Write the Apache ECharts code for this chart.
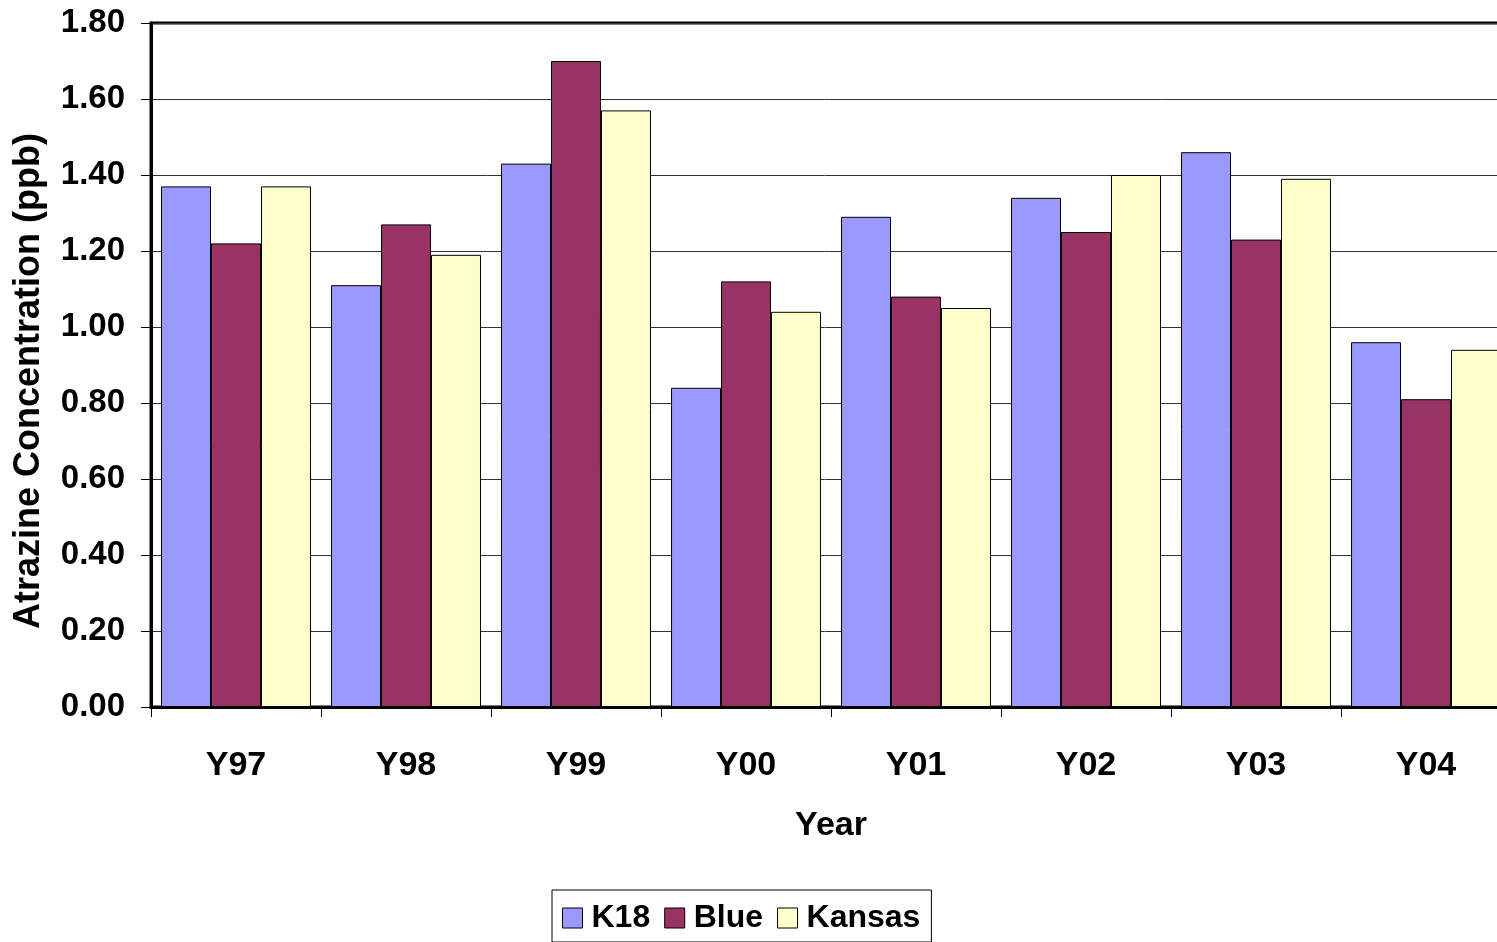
<!DOCTYPE html>
<html>
<head>
<meta charset="utf-8">
<script src="https://cdn.jsdelivr.net/npm/echarts@6/dist/echarts.min.js"></script>
<style>
  html, body { margin: 0; padding: 0; background: #fff; overflow: hidden; }
  #chart { width: 1497px; height: 942px; }
</style>
</head>
<body>
<div id="chart"></div>
<script>
// Annual mean atrazine concentration (ppb) at three sites
const years = ['Y97', 'Y98', 'Y99', 'Y00', 'Y01', 'Y02', 'Y03', 'Y04'];
const k18 = [1.37, 1.11, 1.43, 0.84, 1.29, 1.34, 1.46, 0.96];
const blue = [1.22, 1.27, 1.70, 1.12, 1.08, 1.25, 1.23, 0.81];
const kansas = [1.37, 1.19, 1.57, 1.04, 1.05, 1.40, 1.39, 0.94];

const FONT = '"Liberation Sans", Arial, sans-serif';

const chart = echarts.init(document.getElementById('chart'));

function barSeries(name, data, color) {
  return {
    name: name,
    type: 'bar',
    data: data,
    barGap: '0%',
    barCategoryGap: '11.8%',
    itemStyle: { color: color, borderColor: '#000', borderWidth: 1 },
    emphasis: { disabled: true }
  };
}

chart.setOption({
  animation: false,
  backgroundColor: '#fff',
  // plot area runs slightly past the right edge of the canvas
  grid: {
    left: 151, width: 1360, top: 23, bottom: 235,
    outerBoundsMode: 'none',
    show: true, borderColor: '#000', borderWidth: 3, backgroundColor: 'transparent'
  },
  legend: {
    left: 552, top: 890,
    padding: [12, 11, 8, 10],
    borderColor: '#000', borderWidth: 1,
    itemWidth: 20, itemHeight: 20, itemGap: 14,
    icon: 'rect',
    itemStyle: { borderColor: '#000', borderWidth: 1 },
    textStyle: { fontFamily: FONT, fontWeight: 'bold', fontSize: 32, color: '#000', padding: [0, 0, 0, 4] },
    data: ['K18', 'Blue', 'Kansas']
  },
  xAxis: {
    type: 'category',
    data: years,
    name: 'Year',
    nameLocation: 'middle',
    nameGap: 102,
    nameTextStyle: { fontFamily: FONT, fontWeight: 'bold', fontSize: 34, color: '#000' },
    axisLine: { lineStyle: { color: '#000', width: 3 } },
    axisTick: { show: true, length: 10, interval: 0, lineStyle: { color: '#000', width: 1 } },
    axisLabel: { fontFamily: FONT, fontWeight: 'bold', fontSize: 34, color: '#000', margin: 42 }
  },
  yAxis: {
    type: 'value',
    min: 0, max: 1.8, interval: 0.2,
    name: 'Atrazine Concentration (ppb)',
    nameLocation: 'middle',
    nameGap: 104,
    nameTextStyle: {
      fontFamily: FONT, fontWeight: 'bold', fontSize: 36, color: '#000',
      padding: [0, 32, 0, 0]
    },
    axisLine: { show: true, lineStyle: { color: '#000', width: 3 } },
    axisTick: { show: true, length: 10, lineStyle: { color: '#000', width: 1 } },
    axisLabel: {
      fontFamily: FONT, fontWeight: 'bold', fontSize: 33, color: '#000', margin: 26,
      verticalAlign: 'middle', padding: [8, 0, 0, 0],
      formatter: v => v.toFixed(2)
    },
    splitLine: { show: true, lineStyle: { color: '#333', width: 1 } }
  },
  series: [
    barSeries('K18', k18, '#9999FF'),
    barSeries('Blue', blue, '#993366'),
    barSeries('Kansas', kansas, '#FFFFCC')
  ]
});
</script>
</body>
</html>
